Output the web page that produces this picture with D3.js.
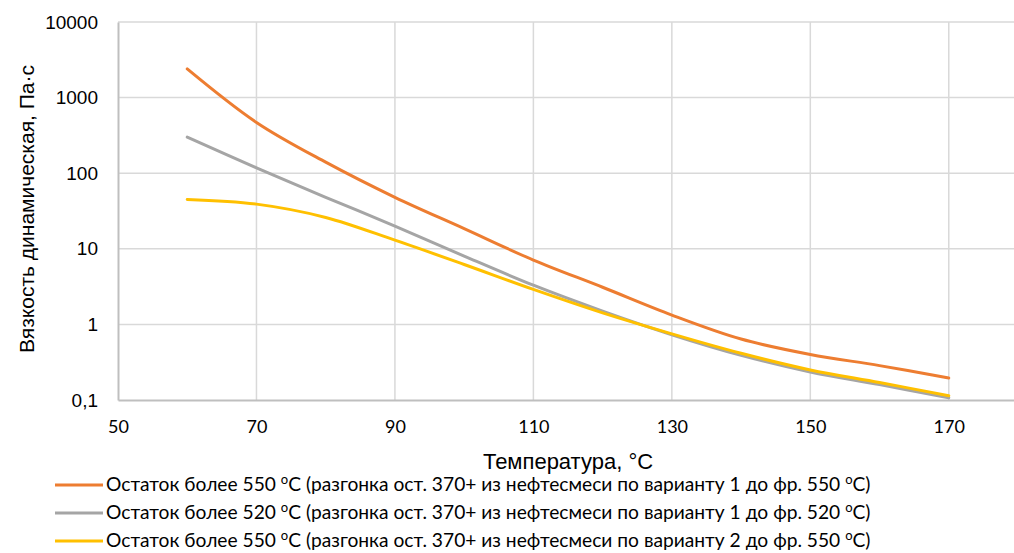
<!DOCTYPE html>
<html>
<head>
<meta charset="utf-8">
<script src="https://cdn.jsdelivr.net/npm/d3@7/dist/d3.min.js"></script>
<style>
  html, body { margin: 0; padding: 0; background: #fff; }
  svg { display: block; }
</style>
</head>
<body>
<svg id="chart" width="1014" height="553"></svg>
<script>
// Temperature, °C
const temperatures = [60, 70, 80, 90, 100, 110, 120, 130, 140, 150, 160, 170];

// Dynamic viscosity, Pa·s
const residue550v1 = [2400, 470, 140, 48, 18.5, 7.1, 3.1, 1.33, 0.64, 0.40, 0.285, 0.195];
const residue520v1 = [300, 118, 48, 20, 8.0, 3.3, 1.5, 0.73, 0.39, 0.235, 0.16, 0.107];
const residue550v2 = [45, 39, 26, 13, 6.2, 2.9, 1.42, 0.75, 0.415, 0.25, 0.17, 0.114];

const seriesNames = [
  ["Остаток более 550 ", "C (разгонка ост. 370+ из нефтесмеси по варианту 1 до фр. 550 ", "C)"],
  ["Остаток более 520 ", "C (разгонка ост. 370+ из нефтесмеси по варианту 1 до фр. 520 ", "C)"],
  ["Остаток более 550 ", "C (разгонка ост. 370+ из нефтесмеси по варианту 2 до фр. 550 ", "C)"]
];
const seriesColors = ["#ED7D31", "#A5A5A5", "#FFC000"];

const xTicks = [50, 70, 90, 110, 130, 150, 170];
const yTicks = [0.1, 1, 10, 100, 1000, 10000];
const yTickLabels = ["0,1", "1", "10", "100", "1000", "10000"];

const xTitle = "Температура, °C";
const yTitle = "Вязкость динамическая, Па·с";

const svg = d3.select("#chart");
const margin = { left: 118, top: 22, right: -4, bottom: 153 };
const W = 1014, H = 553;
const plotW = W - margin.left - margin.right;
const plotH = H - margin.top - margin.bottom;

const x = d3.scaleLinear().domain([50, 180]).range([margin.left, margin.left + plotW]);
const y = d3.scaleLog().domain([0.1, 10000]).range([margin.top + plotH, margin.top]);

const armFont = "'Liberation Sans', Arial, sans-serif";
const calFont = "Lato, 'Open Sans', sans-serif";

// Grid
const grid = svg.append("g");
grid.selectAll("line.h").data(yTicks.slice(1)).join("line")
  .attr("x1", margin.left).attr("x2", margin.left + plotW)
  .attr("y1", d => y(d)).attr("y2", d => y(d))
  .attr("stroke", "#D9D9D9").attr("stroke-width", 1.5);
grid.selectAll("line.v").data(xTicks.slice(1)).join("line")
  .attr("x1", d => x(d)).attr("x2", d => x(d))
  .attr("y1", margin.top).attr("y2", margin.top + plotH)
  .attr("stroke", "#D9D9D9").attr("stroke-width", 1.5);

// Axes
const xAxis = d3.axisBottom(x).tickValues(xTicks).tickSize(0).tickPadding(20).tickFormat(d3.format("d"));
const gx = svg.append("g").attr("transform", `translate(0,${margin.top + plotH})`).call(xAxis);
gx.select(".domain").attr("stroke", "#BFBFBF").attr("stroke-width", 2);
gx.selectAll("text").attr("font-family", calFont).attr("font-size", 18).attr("fill", "#000");

const yAxis = d3.axisLeft(y).tickValues(yTicks).tickSize(0).tickPadding(20)
  .tickFormat((d, i) => yTickLabels[i]);
const gy = svg.append("g").attr("transform", `translate(${margin.left},0)`).call(yAxis);
gy.select(".domain").attr("stroke", "#BFBFBF").attr("stroke-width", 2);
gy.selectAll("text").attr("font-family", armFont).attr("font-size", 19).attr("fill", "#000");

// Series
const line = d3.line()
  .x(d => x(d[0]))
  .y(d => y(d[1]))
  .curve(d3.curveCatmullRom.alpha(0.5));

[residue550v1, residue520v1, residue550v2].forEach((vals, i) => {
  svg.append("path")
    .datum(temperatures.map((t, j) => [t, vals[j]]))
    .attr("fill", "none")
    .attr("stroke", seriesColors[i])
    .attr("stroke-width", 3)
    .attr("stroke-linecap", "round")
    .attr("d", line);
});

// Axis titles
svg.append("text")
  .attr("x", margin.left + plotW / 2).attr("y", 469)
  .attr("text-anchor", "middle")
  .attr("font-family", armFont).attr("font-size", 22)
  .text(xTitle);

svg.append("text")
  .attr("transform", `translate(34,209) rotate(-90)`)
  .attr("text-anchor", "middle")
  .attr("font-family", armFont).attr("font-size", 21)
  .text(yTitle);

// Legend
const legend = svg.append("g");
seriesNames.forEach((parts, i) => {
  const ly = 485 + i * 28;
  legend.append("line")
    .attr("x1", 55).attr("x2", 103).attr("y1", ly).attr("y2", ly)
    .attr("stroke", seriesColors[i]).attr("stroke-width", 3);
  const t = legend.append("text")
    .attr("x", 106).attr("y", ly + 6)
    .attr("font-family", calFont).attr("font-size", 19.2);
  t.append("tspan").text(parts[0]);
  t.append("tspan").attr("dy", -7).attr("font-size", 13).text("o");
  t.append("tspan").attr("dy", 7).text(parts[1]);
  t.append("tspan").attr("dy", -7).attr("font-size", 13).text("o");
  t.append("tspan").attr("dy", 7).text(parts[2]);
});
</script>
</body>
</html>
